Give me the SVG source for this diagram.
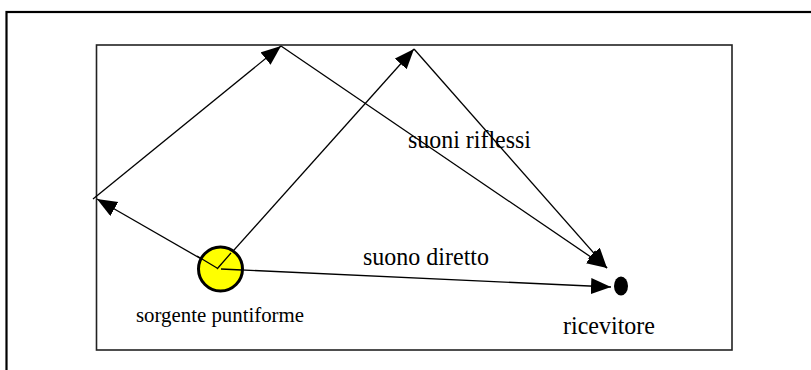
<svg xmlns="http://www.w3.org/2000/svg" width="811" height="370" viewBox="0 0 811 370">
<defs>
<marker id="ah" markerUnits="userSpaceOnUse" markerWidth="22" markerHeight="18" refX="20" refY="8" orient="auto">
<path d="M0,0 L20,8 L0,16 z" fill="#000"/>
</marker>
<style>
.ln{stroke:#000;stroke-width:1.3;fill:none}
.t{font-family:"Liberation Serif","Times New Roman","DejaVu Serif",serif;fill:#000}
</style>
</defs>
<rect x="0" y="0" width="811" height="370" fill="#fff"/>
<rect id="frame" x="6.5" y="12" width="830" height="380" fill="none" stroke="#000" stroke-width="2.2"/>
<rect id="room" x="96.5" y="45" width="635.5" height="305" fill="none" stroke="#222" stroke-width="1.6"/>
<g id="connectors">
<line class="ln" x1="217" y1="268" x2="97" y2="199" marker-end="url(#ah)"/>
<line class="ln" x1="93" y1="199" x2="281" y2="46" marker-end="url(#ah)"/>
<line class="ln" x1="281" y1="46" x2="607" y2="268" marker-end="url(#ah)"/>
<line class="ln" x1="217" y1="269" x2="414" y2="49" marker-end="url(#ah)"/>
<line class="ln" x1="414" y1="49" x2="607" y2="268" marker-end="url(#ah)"/>
<line class="ln" x1="221" y1="269" x2="611" y2="287" marker-end="url(#ah)"/>
</g>
<g id="source">
<ellipse cx="220.5" cy="269" rx="22" ry="22" fill="#ffff00" stroke="#000" stroke-width="3"/>
<line class="ln" x1="217" y1="268" x2="197" y2="256"/>
<line class="ln" x1="217" y1="269" x2="231" y2="253"/>
<line class="ln" x1="221" y1="269" x2="242" y2="270"/>
<text class="t" x="136" y="322" font-size="21" textLength="168" lengthAdjust="spacingAndGlyphs">sorgente puntiforme</text>
</g>
<g id="receiver">
<ellipse cx="621" cy="286" rx="7" ry="9.5" fill="#000"/>
<text class="t" x="563" y="334" font-size="25" textLength="92" lengthAdjust="spacingAndGlyphs">ricevitore</text>
</g>
<text class="t" x="363" y="265" font-size="25" textLength="126" lengthAdjust="spacingAndGlyphs">suono diretto</text>
<text class="t" x="408" y="148" font-size="25" textLength="123" lengthAdjust="spacingAndGlyphs">suoni riflessi</text>
</svg>
